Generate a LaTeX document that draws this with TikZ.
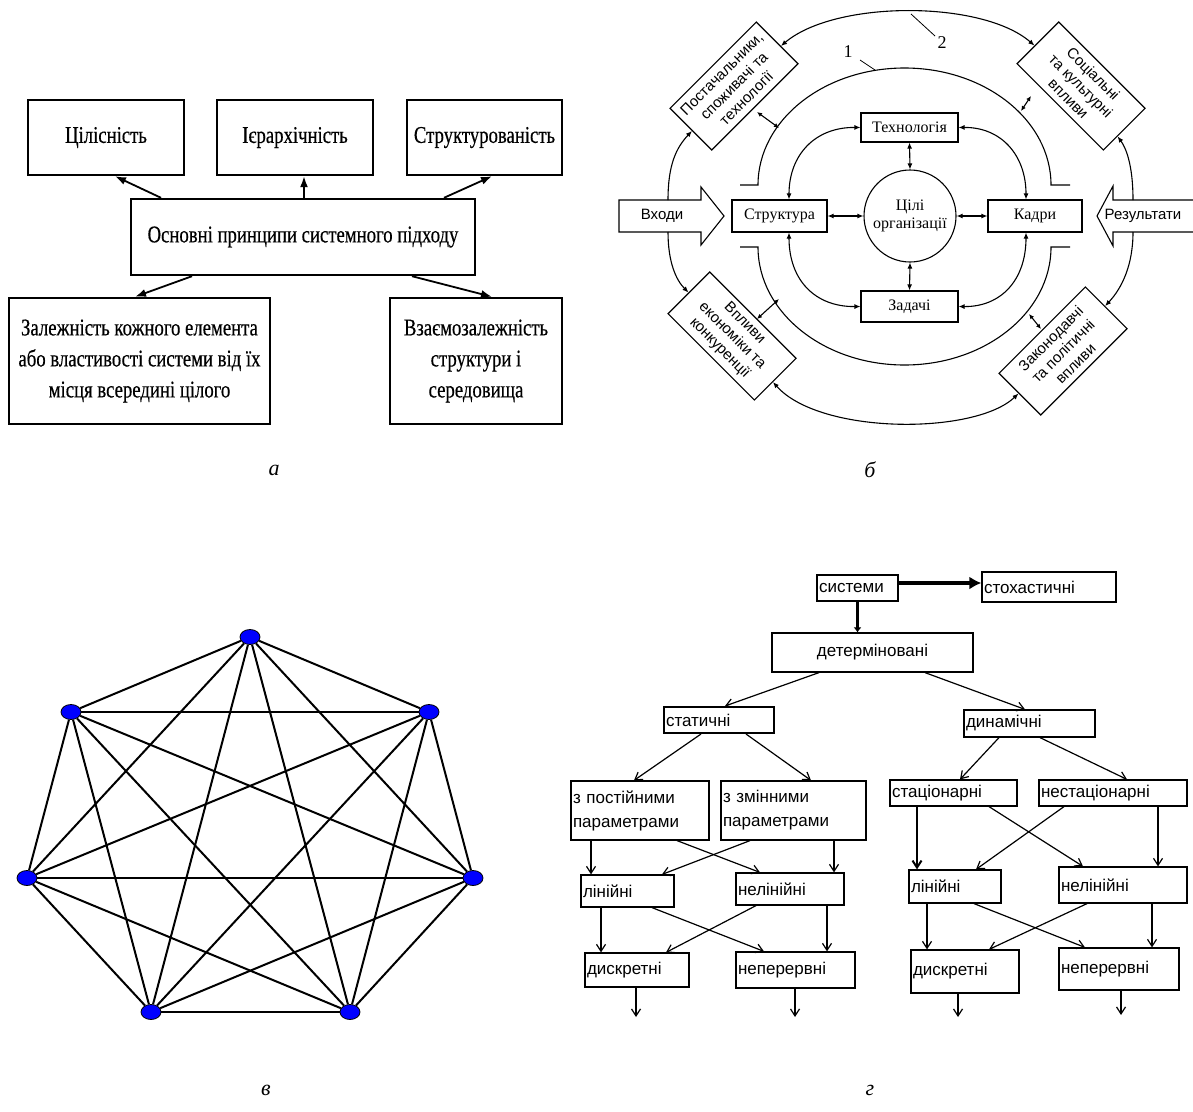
\documentclass[tikz,border=0pt]{standalone}
\usepackage{fontspec}
\setmainfont{Liberation Serif}
\setsansfont{Liberation Sans}
\newfontfamily\condserif[FakeStretch=0.78,FakeBold=0.4]{Liberation Serif}
\usetikzlibrary{arrows.meta,calc,shapes.geometric}
\tikzset{
  abox/.style={draw, line width=2.4pt, inner sep=2pt, align=center, font=\condserif\fontsize{24}{31}\selectfont},
  aarr/.style={line width=1.8pt, -{Latex[length=11pt,width=8pt]}},
  bbox/.style={draw, line width=1.1pt, inner sep=1pt, font=\fontsize{16}{18}\selectfont},
  rbox/.style={draw, line width=1.1pt, inner sep=1pt, align=center, minimum width=122pt, minimum height=59pt, font=\sffamily\fontsize{15}{17.5}\selectfont},
  bline/.style={line width=1.1pt},
  barr/.style={line width=1.1pt, {Latex[length=6pt,width=5pt]}-{Latex[length=6pt,width=5pt]}},
  bsmall/.style={line width=1.1pt, {Latex[length=5pt,width=4.5pt]}-{Latex[length=5pt,width=4.5pt]}},
  bone/.style={line width=1.1pt, -{Latex[length=6pt,width=5pt]}},
  vert/.style={ellipse, draw, fill=blue, line width=0.8pt, minimum width=20pt, minimum height=15pt, inner sep=0pt},
  kedge/.style={line width=2pt},
  gbox/.style={draw, line width=1.2pt, inner xsep=2pt, inner ysep=1pt, align=left, font=\sffamily\fontsize{17}{24}\selectfont},
  garr/.style={line width=1.2pt, -{Straight Barb[length=7pt,width=9pt]}},
  lbl/.style={font=\itshape\fontsize{22}{24}\selectfont},
}
\begin{document}
\begin{tikzpicture}[x=1pt,y=-1pt]
\useasboundingbox (0,0) rectangle (1193,1111);
\fill[white] (0,0) rectangle (1193,1111);

% ================= panel a
\node[abox, minimum width=156pt, minimum height=75pt] (a1) at (106,137.5) {Цілісність};
\node[abox, minimum width=156pt, minimum height=75pt] (a2) at (295,137.5) {Ієрархічність};
\node[abox, minimum width=155pt, minimum height=75pt] (a3) at (484.5,137.5) {Структурованість};
\node[abox, minimum width=344pt, minimum height=76pt] (a0) at (303,237) {Основні принципи системного підходу};
\node[abox, minimum width=261pt, minimum height=126pt] (a4) at (139.5,361) {Залежність кожного елемента\\або властивості системи від їх\\місця всередині цілого};
\node[abox, minimum width=172pt, minimum height=126pt] (a5) at (476,361) {Взаємозалежність\\структури і\\середовища};
\draw[aarr] (a0.north -| 161,0) -- (a1.south -| 115,0);
\draw[aarr] (a0.north -| 304,0) -- (a2.south -| 304,0);
\draw[aarr] (a0.north -| 444,0) -- (a3.south -| 492,0);
\draw[aarr] (a0.south -| 192,0) -- (a4.north -| 135,0);
\draw[aarr] (a0.south -| 412,0) -- (a5.north -| 492,0);
\node[lbl] (la) at (274,470) {а};

% ================= panel b
\node[bbox, minimum width=97pt, minimum height=29pt] (tech) at (909.5,127.5) {Технологія};
\node[bbox, minimum width=97pt, minimum height=31pt] (zad) at (909.5,306.5) {Задачі};
\node[bbox, minimum width=95pt, minimum height=32pt] (str) at (779.5,216) {Структура};
\node[bbox, minimum width=94pt, minimum height=32pt] (kad) at (1035,216) {Кадри};
\node[circle, draw, line width=1.1pt, minimum size=92pt, inner sep=0pt, align=center, font=\fontsize{16}{18}\selectfont] (goal) at (910,216) {Цілі\\організації};
\draw[barr] (str.east) -- (goal.west);
\draw[barr] (goal.east) -- (kad.west);
\draw[barr] (tech.south) -- (goal.north);
\draw[barr] (goal.south) -- (zad.north);
\draw[barr] (tech.west) .. controls (815,127) and (789,155) .. ([xshift=9.5pt]str.north);
\draw[barr] (tech.east) .. controls (1001,127) and (1026,155) .. ([xshift=-9pt]kad.north);
\draw[barr] ([xshift=9.5pt]str.south) .. controls (789,280) and (815,307) .. (zad.west);
\draw[barr] ([xshift=-9pt]kad.south) .. controls (1026,280) and (1001,307) .. (zad.east);
% inputs / results arrows
\draw[bline] (619,200) -- (701,200) -- (701,187) -- (724,216) -- (701,245) -- (701,232) -- (619,232) -- cycle;
\node[font=\sffamily\fontsize{15}{16}\selectfont] (inp) at (662,216) {Входи};
\draw[bline] (1097,216) -- (1113,186) -- (1113,200) -- (1200,200) -- (1200,232) -- (1113,232) -- (1113,246) -- cycle;
\node[font=\sffamily\fontsize{15}{16}\selectfont] (res) at (1143,216) {Результати};
\coordinate (inpT) at (668,200);
\coordinate (inpB) at (668,232);
\coordinate (resT) at (1133,200);
\coordinate (resB) at (1133,232);
% rotated boxes
\node[rbox, rotate=45] (post) at (734,86) {Постачальники,\\споживачі та\\технології};
\node[rbox, rotate=-45] (soc) at (1081,86) {Соціальні\\та культурні\\впливи};
\node[rbox, rotate=-45] (vpl) at (732,336) {Впливи\\економіки та\\конкуренції};
\node[rbox, rotate=45] (zak) at (1063,351) {Законодавчі\\та політичні\\впливи};
\draw[bone] (inpT) .. controls (668,165) and (676,148) .. (post);
\draw[bone] (inpB) .. controls (668,262) and (676,280) .. (vpl);
\draw[bone] (resT) .. controls (1133,165) and (1126,148) .. (soc);
\draw[bone] (resB) .. controls (1133,265) and (1122,288) .. (zak);
% arc 1
\draw[bline] (740,185) -- (758,185) arc[start angle=180, end angle=0, x radius=146.5pt, y radius=117pt] -- (1070,185);
\draw[bline] (740,247) -- (758,247) arc[start angle=180, end angle=360, x radius=146.5pt, y radius=118pt] -- (1070,247);
\node[font=\fontsize{18}{18}\selectfont] (l1) at (848,52) {1};
\draw[line width=0.8pt] (860,60) -- (875,70);
% arc 2
\draw[barr] (post) .. controls (835,0) and (982,0) .. (soc);
\draw[barr] (vpl) .. controls (820,435) and (975,435) .. (zak);
\node[font=\fontsize{18}{18}\selectfont] (l2) at (942,43) {2};
\draw[line width=0.8pt] (911,14) -- (935,36);
% small connectors between boxes and arc 1
\draw[bsmall] (757,112) -- (779,128);
\draw[bsmall] (1031,96) -- (1021,111);
\draw[bsmall] (757,319) -- (779,299);
\draw[bsmall] (1029,314) -- (1041,329);
\node[lbl] (lb) at (870,470) {б};

% ================= panel v
\node[vert] (v1) at (250,637) {};
\node[vert] (v2) at (429,712) {};
\node[vert] (v3) at (473,878) {};
\node[vert] (v4) at (350,1012) {};
\node[vert] (v5) at (151,1012) {};
\node[vert] (v6) at (27,878) {};
\node[vert] (v7) at (71,712) {};
\foreach \i in {1,...,6}{
  \pgfmathtruncatemacro\nxt{\i+1}
  \foreach \j in {\nxt,...,7}{
    \draw[kedge] (v\i) -- (v\j);
  }
}
\node[lbl] (lv) at (266,1090) {в};

% ================= panel g
\node[gbox, text width=77pt, minimum height=26pt] (sys) at (857.5,588) {системи};
\node[gbox, text width=130pt, minimum height=30pt] (sto) at (1049,587) {стохастичні};
\node[gbox, align=center, text width=197pt, minimum height=39pt] (det) at (872.5,652.5) {детерміновані};
\node[gbox, line width=2pt, text width=106pt, minimum height=26pt] (stat) at (719,720) {статичні};
\node[gbox, text width=127pt, minimum height=27pt] (dyn) at (1029.5,723.5) {динамічні};
\node[gbox, text width=134pt, minimum height=59pt] (sp) at (640,810.5) {з постійними\\параметрами};
\node[gbox, text width=141pt, minimum height=59pt] (sz) at (793.5,810.5) {з змінними\\параметрами};
\node[gbox, text width=123pt, minimum height=26pt] (stac) at (953.5,793) {стаціонарні};
\node[gbox, text width=144pt, minimum height=26pt] (nst) at (1113,793) {нестаціонарні};
\node[gbox, text width=89pt, minimum height=32pt] (lin1) at (627.5,891) {лінійні};
\node[gbox, text width=104pt, minimum height=32pt] (nel1) at (790,889) {нелінійні};
\node[gbox, text width=88pt, minimum height=33pt] (lin2) at (955,886.5) {лінійні};
\node[gbox, text width=124pt, minimum height=36pt] (nel2) at (1123,885) {нелінійні};
\node[gbox, text width=100pt, minimum height=34pt] (dis1) at (637,970) {дискретні};
\node[gbox, text width=115pt, minimum height=36pt] (nep1) at (795.5,970) {неперервні};
\node[gbox, text width=104pt, minimum height=43pt] (dis2) at (965,971.5) {дискретні};
\node[gbox, text width=116pt, minimum height=42pt] (nep2) at (1119,969) {неперервні};

\draw[line width=4pt, -{Latex[length=12pt,width=13pt]}] (sys.east |- 0,583) -- (sto.west |- 0,583);
\draw[line width=3pt, -{Latex[length=5pt,width=8pt]}] (sys.south) -- (sys.south |- det.north);
\draw[garr] (det.south -| 819,0) -- (stat.north -| 725,0);
\draw[garr] (det.south -| 925,0) -- (dyn.north -| 1025,0);
\draw[garr] (stat.south -| 701,0) -- (sp.north -| 634,0);
\draw[garr] (stat.south -| 746,0) -- (sz.north -| 811,0);
\draw[garr] (dyn.south -| 999,0) -- (stac.north -| 960,0);
\draw[garr] (dyn.south -| 1040,0) -- (nst.north -| 1127,0);
% level 2 -> 3
\draw[garr] (sp.south -| 591,0) -- (lin1.north -| 591,0);
\draw[garr] (sp.south -| 677,0) -- (nel1.north -| 760,0);
\draw[garr] (sz.south -| 750,0) -- (lin1.north -| 662,0);
\draw[garr] (sz.south -| 834,0) -- (nel1.north -| 834,0);
\draw[garr, line width=2pt] (stac.south -| 917,0) -- (lin2.north -| 917,0);
\draw[garr] (stac.south -| 989,0) -- (nel2.north -| 1083,0);
\draw[garr] (nst.south -| 1064,0) -- (lin2.north -| 976,0);
\draw[garr] (nst.south -| 1158,0) -- (nel2.north -| 1158,0);
% level 3 -> 4
\draw[garr] (lin1.south -| 601,0) -- (dis1.north -| 601,0);
\draw[garr] (lin1.south -| 652,0) -- (nep1.north -| 764,0);
\draw[garr] (nel1.south -| 756,0) -- (dis1.north -| 666,0);
\draw[garr] (nel1.south -| 827,0) -- (nep1.north -| 827,0);
\draw[garr] (lin2.south -| 927,0) -- (dis2.north -| 927,0);
\draw[garr] (lin2.south -| 974,0) -- (nep2.north -| 1085,0);
\draw[garr] (nel2.south -| 1087,0) -- (dis2.north -| 989,0);
\draw[garr] (nel2.south -| 1152,0) -- (nep2.north -| 1152,0);
% outgoing
\coordinate (o1) at (636,1017);
\coordinate (o2) at (795,1017);
\coordinate (o3) at (958,1017);
\coordinate (o4) at (1121,1015);
\draw[garr] (dis1.south -| o1) -- (o1);
\draw[garr] (nep1.south -| o2) -- (o2);
\draw[garr] (dis2.south -| o3) -- (o3);
\draw[garr] (nep2.south -| o4) -- (o4);
\node[lbl] (lg) at (870,1090) {г};
\end{tikzpicture}
\end{document}
